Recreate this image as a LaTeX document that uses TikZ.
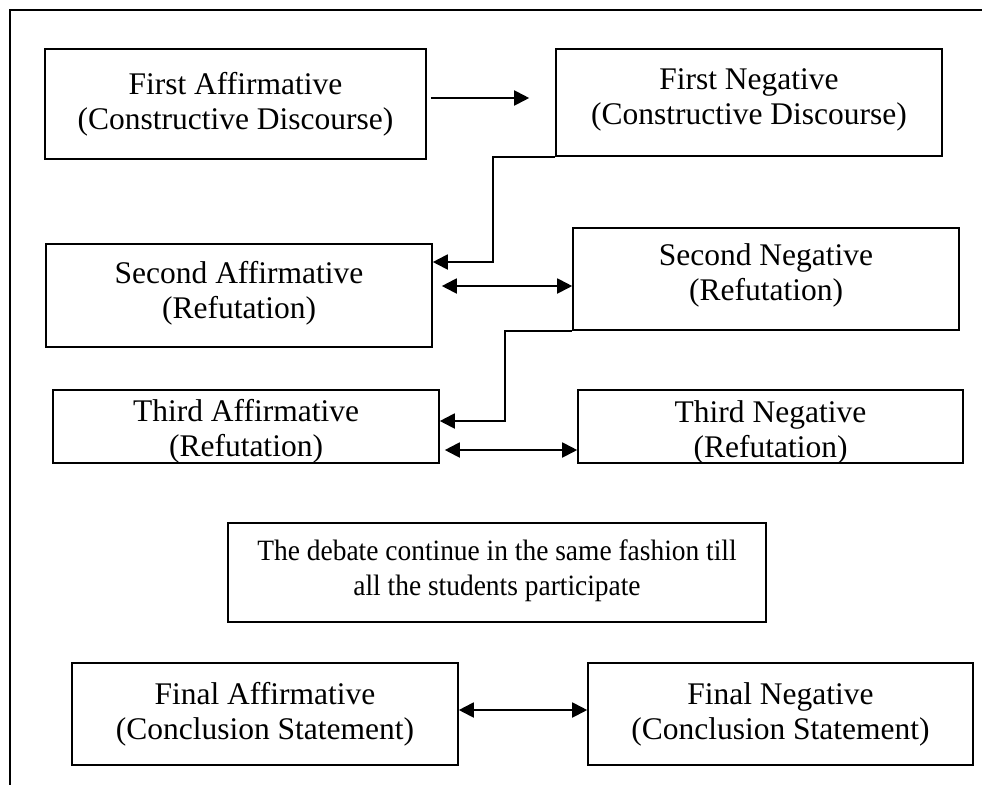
\documentclass[tikz,border=0pt]{standalone}
\usepackage{fontspec}
\setmainfont{Liberation Serif}
\newfontfamily\condserif[FakeStretch=0.93]{Liberation Serif}
\usetikzlibrary{arrows.meta}
\begin{document}
\begin{tikzpicture}[x=1pt,y=-1pt,
  boxnode/.style={draw=black, line width=1.6pt, inner sep=0pt},
  txt/.style={align=center, inner sep=0pt, font=\fontsize{31.5}{35}\selectfont},
  condtxt/.style={align=center, inner sep=0pt, font=\condserif\fontsize{29.5}{35}\selectfont},
  arr/.style={line width=1.9pt, -{Triangle[length=15pt,width=15pt]}},
  darr/.style={line width=1.9pt, {Triangle[length=15pt,width=15pt]}-{Triangle[length=15pt,width=15pt]}}]
\useasboundingbox (0,0) rectangle (982,785);
% outer frame
\coordinate (ftop) at (982,10);
\coordinate (fcorner) at (9.7,10);
\coordinate (fbot) at (9.7,785);
\draw[line width=1.6pt] (ftop) -- (fcorner) -- (fbot);
% boxes
\node[boxnode, minimum width=381pt, minimum height=110pt] (a1) at (235.5,104) {};
\node[boxnode, minimum width=386pt, minimum height=107pt] (b2) at (749,102.5) {};
\node[boxnode, minimum width=386pt, minimum height=103pt] (a3) at (239,295.5) {};
\node[boxnode, minimum width=386pt, minimum height=102pt] (b4) at (766,279) {};
\node[boxnode, minimum width=386pt, minimum height=73pt] (a5) at (246,426.5) {};
\node[boxnode, minimum width=385pt, minimum height=73pt] (b6) at (770.5,426.5) {};
\node[boxnode, minimum width=538pt, minimum height=99pt] (c7) at (497,572.5) {};
\node[boxnode, minimum width=386pt, minimum height=102pt] (a8) at (265,714) {};
\node[boxnode, minimum width=385pt, minimum height=102pt] (b9) at (780.5,714) {};
% texts
\node[txt] (t1) at (235.5,104) {First Affirmative\\(Constructive Discourse)};
\node[txt] (t2) at (749,100) {First Negative\\(Constructive Discourse)};
\node[txt] (t3) at (239,293) {Second Affirmative\\(Refutation)};
\node[txt] (t4) at (766,275) {Second Negative\\(Refutation)};
\node[txt] (t5) at (246,431) {Third Affirmative\\(Refutation)};
\node[txt] (t6) at (770.5,432) {Third Negative\\(Refutation)};
\node[condtxt] (t7) at (497,571) {The debate continue in the same fashion till\\all the students participate};
\node[txt] (t8) at (265,714) {Final Affirmative\\(Conclusion Statement)};
\node[txt] (t9) at (780.5,714) {Final Negative\\(Conclusion Statement)};
% helper y-levels
\coordinate (y1) at (0,98);
\coordinate (y2) at (0,262);
\coordinate (y3) at (0,286);
\coordinate (y4) at (0,421);
\coordinate (y5) at (0,450);
\coordinate (y6) at (0,710);
% connectors
\draw[arr, shorten <=4pt, shorten >=26pt] (a1.east |- y1) -- (b2.west |- y1);
\draw[arr] (b2.south west) -- ++(-62,0) |- (a3.east |- y2);
\draw[darr, shorten <=9pt] (a3.east |- y3) -- (b4.west |- y3);
\draw[arr] (b4.south west) -- ++(-67,0) |- (a5.east |- y4);
\draw[darr, shorten <=5pt] (a5.east |- y5) -- (b6.west |- y5);
\draw[darr] (a8.east |- y6) -- (b9.west |- y6);
\end{tikzpicture}
\end{document}
